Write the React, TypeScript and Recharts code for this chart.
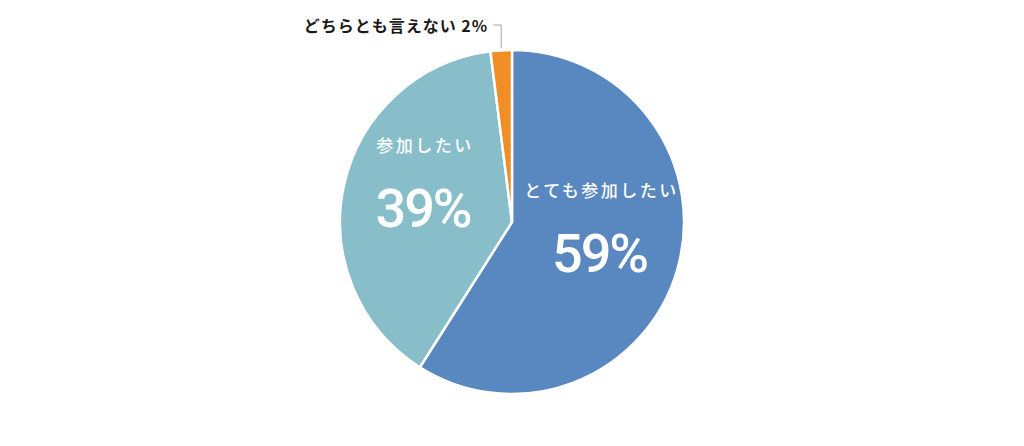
import { PieChart, Pie, Cell } from "recharts"

const categories = ["とても参加したい", "参加したい", "どちらとも言えない"]
const values = [59, 39, 2]
const colors = ["#5987c0", "#88bec9", "#f08d24"]

const data = categories.map((name, i) => ({ name, value: values[i] }))

const RAD = Math.PI / 180
const jpFont = "'Noto Sans CJK JP', 'Noto Sans', sans-serif"
const numFont = "Roboto, sans-serif"

function renderLabel(props: any) {
  const { cx, cy, midAngle, outerRadius, index, name, value } = props
  const cos = Math.cos(-midAngle * RAD)
  const sin = Math.sin(-midAngle * RAD)

  if (value < 5) {
    // small slice: leader line up and to the left, label outside
    const x0 = cx + outerRadius * cos
    const y0 = cy + outerRadius * sin
    const y1 = cy - outerRadius - 25
    const x1 = x0 - 8
    return (
      <g key={`lbl-${index}`}>
        <polyline
          points={`${x0},${y0 - 2} ${x0},${y1} ${x1},${y1}`}
          fill="none"
          stroke="#a6a6a6"
          strokeWidth={1}
        />
        <text
          x={x1 - 5}
          y={y1}
          textAnchor="end"
          dominantBaseline="central"
          fill="#1a1a1a"
          fontFamily={jpFont}
          fontWeight={700}
          fontSize={16}
          letterSpacing={1}
        >
          {`${name} ${value}%`}
        </text>
      </g>
    )
  }

  const r = outerRadius * 0.53
  const x = cx + r * cos
  const y = cy + r * sin - 22
  return (
    <g key={`lbl-${index}`}>
      <text
        x={x + 2}
        y={y - 36}
        textAnchor="middle"
        dominantBaseline="central"
        fill="#ffffff"
        fontFamily={jpFont}
        fontWeight={500}
        fontSize={17}
        letterSpacing={2.5}
      >
        {name}
      </text>
      <text
        x={x}
        y={y + 28}
        textAnchor="middle"
        dominantBaseline="central"
        fill="#ffffff"
        fontFamily={numFont}
        fontWeight={500}
        fontSize={54}
        letterSpacing={-2}
      >
        {`${value}%`}
      </text>
    </g>
  )
}

export default function App() {
  return (
    <div style={{ position: "absolute", left: 0, top: 0, width: 1024, height: 446, background: "#fff" }}>
      <PieChart width={1024} height={446} margin={{ top: 0, right: 0, bottom: 0, left: 0 }}>
        <Pie
          data={data}
          dataKey="value"
          nameKey="name"
          cx={512}
          cy={222}
          outerRadius={172}
          startAngle={90}
          endAngle={-270}
          stroke="#ffffff"
          strokeWidth={2.5}
          label={renderLabel}
          labelLine={false}
          isAnimationActive={false}
        >
          {data.map((d, i) => (
            <Cell key={d.name} fill={colors[i]} />
          ))}
        </Pie>
      </PieChart>
    </div>
  )
}
